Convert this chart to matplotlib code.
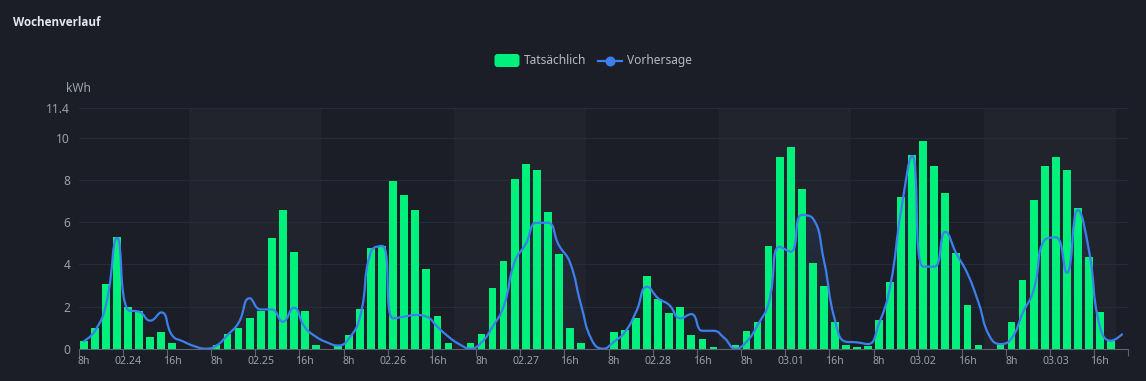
import numpy as np
import matplotlib
matplotlib.use('Agg')
import matplotlib.pyplot as plt
from matplotlib.path import Path
from matplotlib.patches import PathPatch, FancyBboxPatch, Rectangle
from matplotlib.lines import Line2D
from matplotlib.transforms import IdentityTransform

# ---------------- data ----------------
days = ['02.24', '02.25', '02.26', '02.27', '02.28', '03.01', '03.02', '03.03']
day_hours = [list(range(8, 18))] + [list(range(6, 18))] * 6 + [list(range(6, 19))]

# Tatsächlich (kWh), one list per day, hours as in day_hours
actual_0224 = [0.36, 0.97, 3.07, 5.28, 1.96, 1.79, 0.57, 0.78, 0.27, 0.0]
actual_0225 = [0.0, 0.0, 0.16, 0.68, 0.98, 1.47, 1.77, 5.26, 6.56, 4.57, 1.77, 0.16]
actual_0226 = [0.0, 0.14, 0.66, 1.87, 4.77, 4.85, 7.95, 7.27, 6.56, 3.76, 1.56, 0.27]
actual_0227 = [0.0, 0.28, 0.68, 2.89, 4.17, 8.06, 8.77, 8.45, 6.48, 4.47, 0.97, 0.27]
actual_0228 = [0.0, 0.0, 0.78, 0.87, 1.47, 3.46, 2.36, 1.68, 1.96, 0.66, 0.46, 0.07]
actual_0301 = [0.0, 0.16, 0.85, 1.27, 4.87, 9.07, 9.57, 7.57, 4.06, 2.97, 1.27, 0.16]
actual_0302 = [0.07, 0.14, 1.36, 3.18, 7.17, 9.17, 9.86, 8.67, 7.36, 4.55, 2.07, 0.17]
actual_0303 = [0.0, 0.17, 1.25, 3.26, 7.06, 8.67, 9.07, 8.47, 6.67, 4.36, 1.75, 0.38, 0.0]

# Vorhersage (kWh)
forecast_0224 = [0.36, 0.85, 2.10, 5.25, 1.83, 1.75, 1.33, 1.72, 0.62, 0.34]
forecast_0225 = [0.12, 0.0, 0.15, 0.65, 1.23, 2.39, 1.86, 1.86, 1.28, 1.94, 1.02, 0.57]
forecast_0226 = [0.30, 0.15, 0.49, 1.52, 4.62, 4.87, 1.44, 1.52, 1.60, 1.52, 1.04, 0.57]
forecast_0227 = [0.21, 0.0, 0.30, 1.04, 2.00, 4.12, 4.96, 5.97, 5.97, 4.91, 4.10, 2.10]
forecast_0228 = [0.40, 0.0, 0.33, 0.80, 1.75, 2.94, 2.39, 2.07, 1.44, 1.64, 0.85, 0.85]
forecast_0301 = [0.50, 0.0, 0.33, 1.12, 2.15, 4.83, 4.60, 6.34, 6.18, 4.20, 1.36, 0.33]
forecast_0302 = [0.30, 0.22, 1.20, 2.94, 6.57, 9.13, 3.89, 3.89, 5.54, 4.51, 3.57, 2.20]
forecast_0303 = [0.60, 0.22, 0.49, 1.68, 2.78, 5.15, 5.28, 3.60, 6.57, 4.68, 1.04, 0.38, 0.68]

actual_kwh = (actual_0224 + actual_0225 + actual_0226 + actual_0227 +
              actual_0228 + actual_0301 + actual_0302 + actual_0303)
forecast_kwh = (forecast_0224 + forecast_0225 + forecast_0226 + forecast_0227 +
                forecast_0228 + forecast_0301 + forecast_0302 + forecast_0303)

y_ticks = [0, 2, 4, 6, 8, 10, 11.4]
y_tick_labels = ['0', '2', '4', '6', '8', '10', '11.4']

# ---------------- style ----------------
BG = '#1b1e26'
BAND = '#21242c'
GREEN = '#00f07c'
BLUE = '#3b80ee'
GRID = '#252a3c'
AXIS = '#5d636e'
LABEL = '#9aa0ab'
LEGEND_TXT = '#b4b9c4'
TITLE = '#e3e6ec'
FONT = ['Noto Sans', 'DejaVu Sans']

plt.rcParams['font.family'] = FONT

W, H = 1146, 381
fig = plt.figure(figsize=(W / 100, H / 100), dpi=100, facecolor=BG)

# axes geometry in pixels
ax_l, ax_r, ax_b, ax_t = 78.5, 1127.5, 348.7, 108.2
ax = fig.add_axes([ax_l / W, (H - ax_b) / H, (ax_r - ax_l) / W, (ax_b - ax_t) / H])
ax.set_facecolor(BG)

# category structure
cat_day, cat_hour = [], []
for d, hrs in zip(days, day_hours):
    for h in hrs:
        cat_day.append(d)
        cat_hour.append(h)
n = len(cat_hour)
x = np.arange(n)
ax.set_xlim(-0.5, n - 0.5)
ax.set_ylim(0, y_ticks[-1])

# alternating day bands (6h..17h of each day)
start = 0
for di, hrs in enumerate(day_hours):
    if di % 2 == 1:
        span = len([h for h in hrs if h <= 17])
        ax.add_patch(Rectangle((start - 0.5, 0), span, y_ticks[-1],
                               facecolor=BAND, edgecolor='none', zorder=0))
    start += len(hrs)

# grid lines
for yt in y_ticks[1:]:
    ax.axhline(yt, color=GRID, lw=0.8, zorder=1)

# bars
ax.bar(x, actual_kwh, width=0.70, color=GREEN, zorder=3, linewidth=0)

# echarts-like smooth line
sx = (ax_r - ax_l) / n
sy = (ax_b - ax_t) / y_ticks[-1]


def smooth_path(xs, ys, smooth=0.5):
    P = np.column_stack([np.asarray(xs, float) * sx, np.asarray(ys, float) * sy])
    m = len(P)
    verts = [P[0]]
    codes = [Path.MOVETO]
    cp0 = P[0].copy()
    for k in range(1, m):
        prev, cur = P[k - 1], P[k]
        if k == m - 1:
            cp1 = cur.copy()
            ncp0 = None
        else:
            nxt = P[k + 1]
            v = nxt - prev
            l0 = np.hypot(*(cur - prev))
            l1 = np.hypot(*(nxt - cur))
            r = l1 / (l0 + l1)
            ncp0 = cur + v * smooth * r
            ncp0 = np.minimum(ncp0, np.maximum(nxt, cur))
            ncp0 = np.maximum(ncp0, np.minimum(nxt, cur))
            v = ncp0 - cur
            cp1 = cur - v * l0 / l1
            cp1 = np.minimum(cp1, np.maximum(prev, cur))
            cp1 = np.maximum(cp1, np.minimum(prev, cur))
            v = cur - cp1
            ncp0 = cur + v * l1 / l0
        verts += [cp0, cp1, cur]
        codes += [Path.CURVE4] * 3
        cp0 = ncp0
    verts = np.array(verts) / np.array([sx, sy])
    return verts, codes


verts, codes = smooth_path(x, forecast_kwh)

# gradient area under the line
area_verts = np.vstack([verts, [[x[-1], 0], [x[0], 0], verts[0]]])
area_codes = codes + [Path.LINETO, Path.LINETO, Path.CLOSEPOLY]
area_patch = PathPatch(Path(area_verts, area_codes), facecolor='none', edgecolor='none')
ax.add_patch(area_patch)
grad = np.zeros((256, 2, 4))
rgb = matplotlib.colors.to_rgb(BLUE)
grad[..., 0], grad[..., 1], grad[..., 2] = rgb
grad[..., 3] = np.linspace(0.16, 0.0, 256)[:, None]
im = ax.imshow(grad, extent=[-0.5, n - 0.5, 0, max(forecast_kwh)], origin='upper',
               aspect='auto', zorder=2, interpolation='bilinear')
im.set_clip_path(area_patch)
ax.set_ylim(0, y_ticks[-1])
ax.set_xlim(-0.5, n - 0.5)

line_patch = PathPatch(Path(verts, codes), facecolor='none', edgecolor=BLUE,
                       lw=1.6, zorder=4, capstyle='round', joinstyle='round')
ax.add_patch(line_patch)

# axes styling
for s in ['left', 'right', 'top']:
    ax.spines[s].set_visible(False)
ax.spines['bottom'].set_color(AXIS)
ax.spines['bottom'].set_linewidth(0.8)

label_idx = [i for i, h in enumerate(cat_hour) if h in (8, 12, 16)]
labels = []
for i in label_idx:
    h = cat_hour[i]
    labels.append(cat_day[i] if h == 12 else f'{h}h')
ax.set_xticks([i - 0.5 for i in label_idx] + [n - 0.5])
ax.set_xticklabels([])
ax.tick_params(axis='x', which='major', length=5, width=0.8, color=AXIS)
ax.set_xticks(label_idx, minor=True)
ax.set_xticklabels(labels, minor=True)
ax.tick_params(axis='x', which='minor', length=0, pad=5, labelsize=7.6, labelcolor=LABEL)

ax.set_yticks(y_ticks)
ax.set_yticklabels(y_tick_labels)
ax.tick_params(axis='y', length=0, pad=6, labelsize=8.6, labelcolor=LABEL)

# axis name
fig.text(78.3 / W, (H - 88) / H, 'kWh', ha='center', va='center',
         fontsize=8.6, color=LABEL)

# title
fig.text(13 / W, (H - 23) / H, 'Wochenverlauf', ha='left', va='center',
         fontsize=8.4, fontweight='bold', color=TITLE,
         family=['Open Sans', 'DejaVu Sans'])

# legend (drawn manually in pixel space)
ident = IdentityTransform()
ly = H - 60.5
fig.patches.append(FancyBboxPatch((494.5, ly - 6.5), 25, 13,
                                  boxstyle='round,pad=0,rounding_size=3',
                                  facecolor=GREEN, edgecolor='none',
                                  transform=ident, figure=fig))
fig.text(524 / W, ly / H, 'Tatsächlich', ha='left', va='center',
         fontsize=8.6, color=LEGEND_TXT)
fig.lines.append(Line2D([598, 622], [ly, ly], color=BLUE, lw=1.6,
                        transform=ident, figure=fig))
fig.lines.append(Line2D([610], [ly], color=BLUE, marker='o', markersize=7.2,
                        markeredgewidth=0, transform=ident, figure=fig))
fig.text(627 / W, ly / H, 'Vorhersage', ha='left', va='center',
         fontsize=8.6, color=LEGEND_TXT)

fig.savefig('out.png', dpi=100, facecolor=BG)
